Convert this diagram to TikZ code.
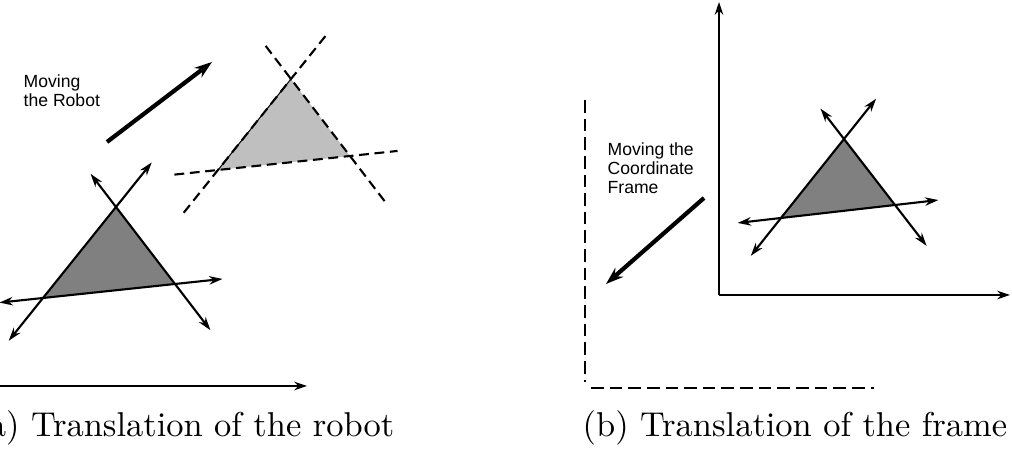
\documentclass[tikz,border=0pt]{standalone}
\usepackage{fontspec}
\usepackage{tikz}
\usetikzlibrary{arrows.meta,calc}
\newfontfamily\labelfont{Liberation Sans}
\definecolor{robotgray}{gray}{0.5}
\definecolor{ghostgray}{gray}{0.75}

\begin{document}
\begin{tikzpicture}[x=0.01cm, y=-0.01cm,
    dirline/.style={line width=0.6pt, {Stealth[length=3.8pt,width=2.4pt]}-{Stealth[length=3.8pt,width=2.4pt]}},
    ghostline/.style={line width=0.6pt, dash pattern=on 2.8pt off 1.6pt},
    motion/.style={line width=1.2pt, -{Stealth[length=5pt,width=3.4pt]}},
    axis/.style={line width=0.8pt, -{Stealth[length=3.6pt,width=2.4pt]}},
    oldaxis/.style={line width=0.8pt, dash pattern=on 3.6pt off 1.7pt},
    caption/.style={font=\fontsize{9.8}{12}\selectfont, inner sep=0},
    note/.style={font=\labelfont\fontsize{5}{5.4}\selectfont, align=left, inner sep=0, anchor=north west}]
  \useasboundingbox (0,0) rectangle (1012,462);

  % (a) the robot is moved
  \coordinate (A1) at (116,207);
  \coordinate (B1) at (43,298);
  \coordinate (C1) at (175,284);
  \fill[robotgray] (A1) -- (B1) -- (C1) -- cycle;
  \draw[dirline] ($(B1)!-0.47!(A1)$) -- ($(A1)!-0.49!(B1)$);
  \draw[dirline] ($(A1)!-0.43!(C1)$) -- ($(C1)!-0.6!(A1)$);
  \draw[dirline] ($(B1)!-0.33!(C1)$) -- ($(C1)!-0.36!(B1)$);

  \coordinate (A2) at (291,79);
  \coordinate (B2) at (218,170);
  \coordinate (C2) at (350,156);
  \fill[ghostgray] (A2) -- (B2) -- (C2) -- cycle;
  \draw[line width=0.3pt] (A2) -- (B2);
  \draw[ghostline] ($(B2)!-0.47!(A2)$) -- ($(A2)!-0.49!(B2)$);
  \draw[ghostline] ($(A2)!-0.43!(C2)$) -- ($(C2)!-0.6!(A2)$);
  \draw[ghostline] ($(B2)!-0.33!(C2)$) -- ($(C2)!-0.36!(B2)$);

  \node[note] (robotnote) at (23,74) {Moving\\the Robot};
  \coordinate (robotfrom) at (107,142);
  \coordinate (robotto) at (212,62);
  \draw[motion] (robotfrom) -- (robotto);

  \coordinate (xa0) at (-5,386);
  \coordinate (xa1) at (307,386);
  \draw[axis] (xa0) -- (xa1);
  \node[caption, anchor=base east] (capa) at (395,437) {(a) Translation of the robot};

  % (b) the frame is moved
  \coordinate (oldy) at (585,100);
  \coordinate (oldo) at (585,382);
  \coordinate (oldx0) at (591,388);
  \coordinate (oldx) at (874,388);
  \draw[oldaxis] (oldy) -- (oldo);
  \draw[oldaxis] (oldx0) -- (oldx);

  \coordinate (O) at (719,295);
  \coordinate (ytip) at (719,2);
  \coordinate (xtip) at (1010,295);
  \draw[axis] (O) -- (ytip);
  \draw[axis] (O) -- (xtip);

  \node[note] (framenote) at (607,142) {Moving the\\Coordinate\\Frame};
  \coordinate (framefrom) at (704,198);
  \coordinate (frameto) at (606,284);
  \draw[motion] (framefrom) -- (frameto);

  \coordinate (A3) at (844,139);
  \coordinate (B3) at (781,218);
  \coordinate (C3) at (895,205);
  \fill[robotgray] (A3) -- (B3) -- (C3) -- cycle;
  \draw[dirline] ($(B3)!-0.48!(A3)$) -- ($(A3)!-0.51!(B3)$);
  \draw[dirline] ($(A3)!-0.46!(C3)$) -- ($(C3)!-0.62!(A3)$);
  \draw[dirline] ($(B3)!-0.38!(C3)$) -- ($(C3)!-0.38!(B3)$);

  \node[caption, anchor=base west] (capb) at (582,437) {(b) Translation of the frame};
\end{tikzpicture}
\end{document}
